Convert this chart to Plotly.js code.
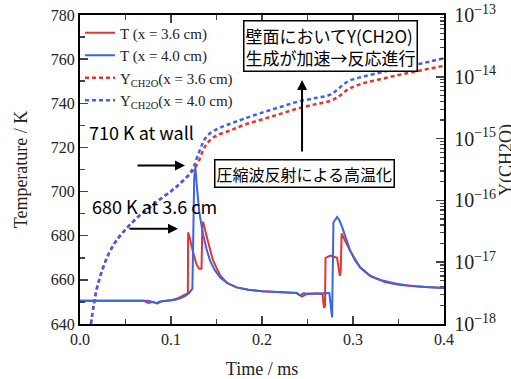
<!DOCTYPE html>
<html><head><meta charset="utf-8">
<script src="https://cdn.plot.ly/plotly-3.0.1.min.js"></script>
<style>html,body{margin:0;padding:0;background:#fff}#chart{width:511px;height:379px}</style>
</head><body><div id="chart"></div>
<script>
// Temperature at x = 3.6 cm (red)
const tRed = [0, 0.07, 0.075, 0.08, 0.085, 0.09, 0.1, 0.105, 0.11, 0.115, 0.1185, 0.1188, 0.12, 0.124, 0.128, 0.131, 0.1335, 0.1345, 0.1355, 0.139, 0.146, 0.154, 0.162, 0.172, 0.185, 0.2, 0.22, 0.238, 0.242, 0.246, 0.25, 0.26, 0.2665, 0.268, 0.2692, 0.2698, 0.275, 0.2825, 0.2855, 0.2865, 0.2875, 0.29, 0.297, 0.308, 0.32, 0.335, 0.35, 0.37, 0.4];
const TRed = [650.5, 650.5, 649.5, 650, 649.3, 650.3, 650.8, 651.3, 652.2, 653.3, 654, 681.5, 680, 673, 667, 665, 665, 686, 686, 680, 669, 662, 658.5, 656.6, 655.5, 654.8, 654.4, 654, 653, 654, 653.5, 653.8, 653.5, 647.4, 648, 670, 671, 670, 661.8, 664, 681, 679, 673, 665.6, 661.5, 659, 657.8, 657, 656.3];
// Temperature at x = 4.0 cm (blue)
const tBlue = [0, 0.075, 0.08, 0.084, 0.088, 0.095, 0.105, 0.11, 0.115, 0.12, 0.1235, 0.1255, 0.1267, 0.129, 0.131, 0.135, 0.139, 0.143, 0.148, 0.154, 0.162, 0.172, 0.185, 0.2, 0.22, 0.238, 0.244, 0.25, 0.26, 0.27, 0.274, 0.277, 0.2785, 0.2825, 0.285, 0.288, 0.292, 0.297, 0.302, 0.308, 0.318, 0.33, 0.345, 0.36, 0.38, 0.4];
const TBlue = [650.5, 650.5, 650, 649.4, 650.2, 650.5, 651, 651.6, 652.5, 654, 656, 706, 711, 700, 691, 681, 674, 668.6, 664.5, 661, 658.5, 656.6, 655.5, 654.8, 654.3, 654, 652.4, 653.8, 653.8, 653.8, 654, 643, 686, 688.5, 687, 684, 679, 673.2, 669, 665.6, 662, 660, 658.5, 657.5, 656.8, 656.3];
// Y(CH2O) time base
const tY = [0.012, 0.015, 0.019, 0.025, 0.032, 0.04, 0.052, 0.065, 0.075, 0.087, 0.1, 0.11, 0.12, 0.125, 0.13, 0.135, 0.14, 0.15, 0.165, 0.18, 0.2, 0.22, 0.24, 0.26, 0.275, 0.285, 0.295, 0.31, 0.33, 0.35, 0.37, 0.4];
const YBlue = [1.0e-18, 2.0e-18, 4.0e-18, 7.9e-18, 1.41e-17, 2.24e-17, 3.63e-17, 5.62e-17, 7.41e-17, 1.02e-16, 1.41e-16, 1.86e-16, 2.63e-16, 3.55e-16, 5.62e-16, 8.51e-16, 1.12e-15, 1.41e-15, 1.74e-15, 2.09e-15, 2.63e-15, 3.24e-15, 3.98e-15, 4.57e-15, 5.13e-15, 6.61e-15, 8.51e-15, 1.0e-14, 1.17e-14, 1.38e-14, 1.58e-14, 2.0e-14];
const YRed = [1.0e-18, 2.0e-18, 4.0e-18, 7.9e-18, 1.41e-17, 2.24e-17, 3.63e-17, 5.62e-17, 7.41e-17, 1.02e-16, 1.41e-16, 1.9e-16, 2.63e-16, 3.16e-16, 4.17e-16, 6.3e-16, 8.5e-16, 1.12e-15, 1.35e-15, 1.66e-15, 2.04e-15, 2.51e-15, 3.09e-15, 3.63e-15, 4.07e-15, 4.9e-15, 6.31e-15, 7.76e-15, 9.12e-15, 1.07e-14, 1.23e-14, 1.51e-14];
const legendNames = ['T (x = 3.6 cm)', 'T (x = 4.0 cm)', 'Y<sub>CH2O</sub>(x = 3.6 cm)', 'Y<sub>CH2O</sub>(x = 4.0 cm)'];
const xTickVals = [0, 0.1, 0.2, 0.3, 0.4];
const xTickText = ['0.0', '0.1', '0.2', '0.3', '0.4'];

const RED = 'rgb(228,52,52)', BLUE = 'rgb(58,100,226)';
const serif = 'Liberation Serif, Times New Roman, serif';
const jp = 'Noto Sans CJK JP, Noto Sans, sans-serif';

const data = [
  {x: tRed, y: TRed, name: legendNames[0], mode: 'lines', line: {color: RED, width: 2}},
  {x: tBlue, y: TBlue, name: legendNames[1], mode: 'lines', line: {color: BLUE, width: 2}},
  {x: tY, y: YRed, name: legendNames[2], yaxis: 'y2', mode: 'lines', line: {color: RED, width: 2.5, dash: '4px,3px', shape: 'spline'}},
  {x: tY, y: YBlue, name: legendNames[3], yaxis: 'y2', mode: 'lines', line: {color: BLUE, width: 2.5, dash: '4px,3px', shape: 'spline'}}
];

const layout = {
  width: 511, height: 379,
  margin: {l: 80, r: 67, t: 15, b: 55},
  paper_bgcolor: '#fff', plot_bgcolor: '#fff',
  font: {family: serif, size: 15, color: '#222'},
  showlegend: true,
  legend: {x: 0.0, y: 0.995, xanchor: 'left', yanchor: 'top', bgcolor: 'rgba(0,0,0,0)',
           font: {family: serif, size: 15, color: '#222'}, tracegroupgap: 0, itemwidth: 30},
  xaxis: {range: [0, 0.4], tickvals: xTickVals, ticktext: xTickText, ticks: 'inside', ticklen: 8, tickwidth: 1.5,
          minor: {dtick: 0.05, ticks: 'inside', ticklen: 5, tickwidth: 1.5, showgrid: false},
          showline: true, linewidth: 2, linecolor: '#000', mirror: 'ticks', showgrid: false, zeroline: false,
          title: {text: 'Time / ms', font: {family: serif, size: 18, color: '#222'}, standoff: 16},
          tickfont: {family: serif, size: 16, color: '#222'}},
  yaxis: {range: [640, 780], dtick: 20, ticks: 'inside', ticklen: 8, tickwidth: 1.5,
          minor: {dtick: 10, ticks: 'inside', ticklen: 5, tickwidth: 1.5, showgrid: false},
          showline: true, linewidth: 2, linecolor: '#000', mirror: true, showgrid: false, zeroline: false,
          title: {text: 'Temperature / K', font: {family: serif, size: 18, color: '#222'}, standoff: 18},
          tickfont: {family: serif, size: 16, color: '#222'}},
  yaxis2: {type: 'log', range: [-18, -13], overlaying: 'y', side: 'right', dtick: 1, exponentformat: 'power',
           ticks: 'inside', ticklen: 8, tickwidth: 1.5,
           minor: {dtick: 'D1', ticks: 'inside', ticklen: 4, tickwidth: 1.2, showgrid: false},
           showline: true, linewidth: 2, linecolor: '#000', showgrid: false, zeroline: false,
           tickfont: {family: serif, size: 16, color: '#222'}, ticklabelstandoff: 5},
  annotations: [
    {x: 1.17, y: 0.53, xref: 'paper', yref: 'paper', xanchor: 'center', yanchor: 'middle', text: 'Y(CH2O)', textangle: -90, showarrow: false,
     font: {family: serif, size: 18, color: '#222'}},
    {x: 0.2753, y: 766, xref: 'x', yref: 'y', text: '壁面においてY(CH2O)<br>生成が加速→反応進行', showarrow: false,
     font: {family: jp, size: 17, color: '#000'}, bgcolor: '#fff', bordercolor: '#000', borderwidth: 1.5, borderpad: 1, align: 'left'},
    {x: 0.244, y: 750.5, xref: 'x', yref: 'y', text: '', showarrow: true, ax: 0, ay: 73,
     arrowhead: 2, arrowsize: 1, arrowwidth: 2, arrowcolor: '#000'},
    {x: 0.2462, y: 708, xref: 'x', yref: 'y', text: '圧縮波反射による高温化', showarrow: false,
     font: {family: jp, size: 16, color: '#000'}, bgcolor: '#fff', bordercolor: '#000', borderwidth: 1.5, borderpad: 1},
    {x: 0.0681, y: 726.8, xref: 'x', yref: 'y', text: '710 K at wall', showarrow: false,
     font: {family: jp, size: 18, color: '#000'}},
    {x: 0.0824, y: 693.6, xref: 'x', yref: 'y', text: '680 K at 3.6 cm', showarrow: false,
     font: {family: jp, size: 18, color: '#000'}},
    {x: 0.1154, y: 711.8, xref: 'x', yref: 'y', text: '', showarrow: true, ax: -49, ay: 0,
     arrowhead: 2, arrowsize: 1, arrowwidth: 2, arrowcolor: '#000'},
    {x: 0.1077, y: 683.2, xref: 'x', yref: 'y', text: '', showarrow: true, ax: -50, ay: 0,
     arrowhead: 2, arrowsize: 1, arrowwidth: 2, arrowcolor: '#000'}
  ]
};

Plotly.newPlot('chart', data, layout, {staticPlot: true, displayModeBar: false});
</script>
</body></html>
